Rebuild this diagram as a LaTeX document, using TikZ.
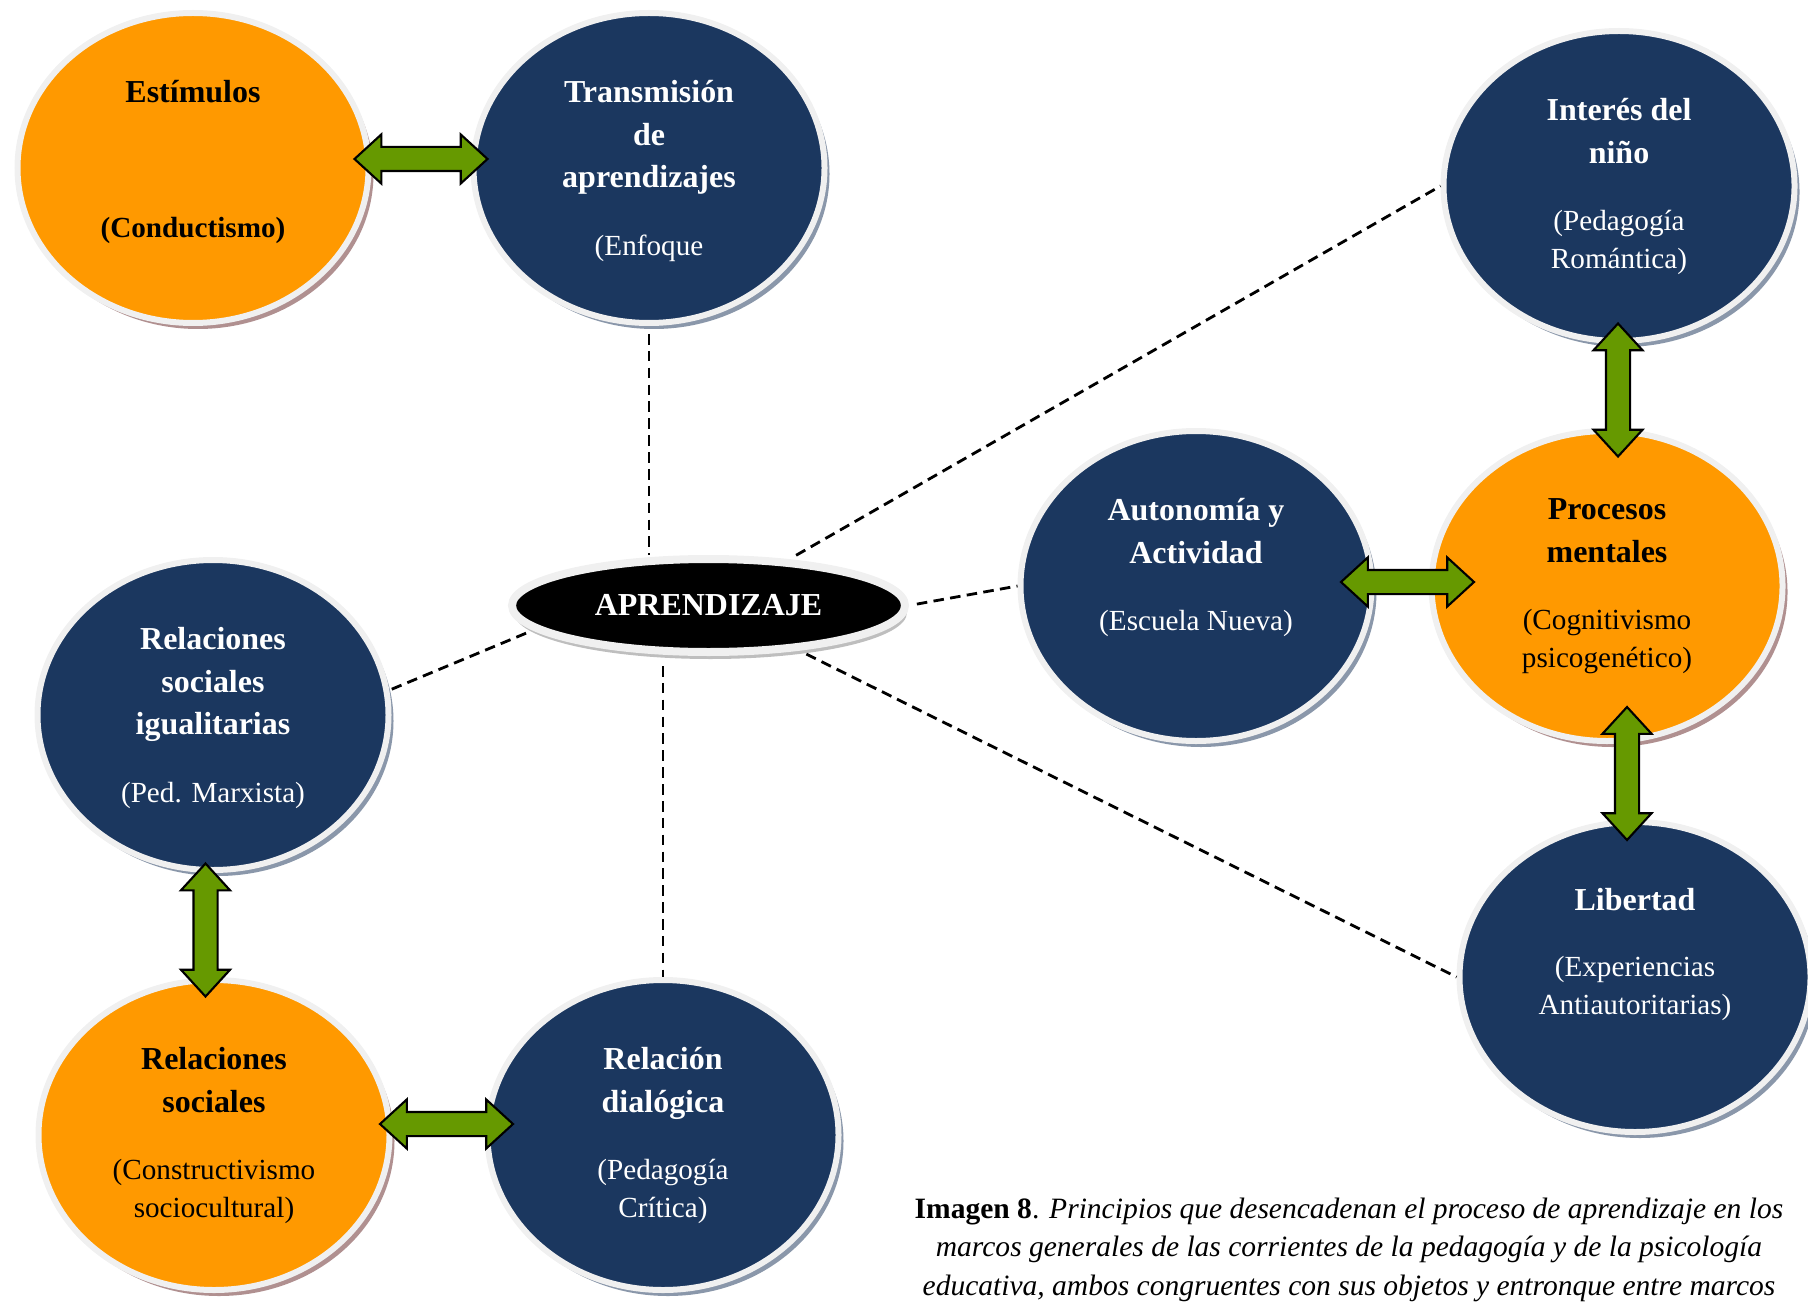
\documentclass[tikz,border=0pt]{standalone}
\usepackage{fontspec}
\setmainfont{Liberation Serif}
\usepackage{tikz}
\usetikzlibrary{positioning,calc,shapes.geometric,shapes.arrows,shadows}
\definecolor{NavyFill}{RGB}{27,55,95}
\definecolor{OrangeFill}{RGB}{255,153,0}
\definecolor{ArrowGreen}{RGB}{102,153,0}
\definecolor{RingGray}{RGB}{240,240,240}
\definecolor{ShadeBlue}{RGB}{138,151,170}
\definecolor{ShadeRose}{RGB}{176,144,144}
\definecolor{ShadeGray}{RGB}{190,190,190}
\newcommand{\pnote}[1]{{\fontsize{8.3}{10}\selectfont #1}}

\begin{document}
\begin{tikzpicture}[
   bubble/.style={ellipse,draw=RingGray,line width=0.06cm,inner sep=0pt,
     minimum width=3.51cm,minimum height=3.10cm},
   bluebub/.style={bubble,fill=NavyFill,
     drop shadow={shadow xshift=0.05cm,shadow yshift=-0.06cm,fill=ShadeBlue,opacity=1}},
   orangebub/.style={bubble,fill=OrangeFill,
     drop shadow={shadow xshift=0.05cm,shadow yshift=-0.06cm,fill=ShadeRose,opacity=1}},
   btext/.style={align=center,inner sep=0pt,anchor=north,font=\fontsize{9.1}{12.1}\selectfont},
   wtext/.style={btext,text=white},
   dashlink/.style={dash pattern=on 3pt off 1.8pt,line width=0.8pt},
   dblarrow/.style={double arrow,draw=black,fill=ArrowGreen,line width=0.6pt,
     minimum height=1.33cm,inner xsep=0pt,inner ysep=0.11cm,
     double arrow head extend=0.125cm,double arrow tip angle=85}]
  \useasboundingbox (0,0) rectangle (18.08,13.01);

  % bubbles
  \node[orangebub] (est)     at (1.93,11.33) {};
  \node[bluebub]   (trans)   at (6.49,11.33) {};
  \node[bluebub]   (interes) at (16.19,11.15) {};
  \node[bluebub]   (auto)    at (11.96,7.15) {};
  \node[orangebub] (proc)    at (16.07,7.15) {};
  \node[bluebub]   (lib)     at (16.35,3.24) {};
  \node[bluebub]   (relig)   at (2.13,5.86) {};
  \node[orangebub] (relsoc)  at (2.14,1.66) {};
  \node[bluebub]   (dial)    at (6.63,1.66) {};

  \node[ellipse,fill=black,draw=RingGray,line width=0.08cm,inner sep=0pt,
        minimum width=3.93cm,minimum height=0.93cm,text=white,
        font=\bfseries\fontsize{9.1}{11}\selectfont,
        drop shadow={shadow xshift=0.02cm,shadow yshift=-0.07cm,fill=ShadeGray,opacity=1}]
        (apr) at (7.085,6.955) {APRENDIZAJE};

  % texts
  \node[btext,below=0.70cm of est.north] (est-t)
     {\textbf{Estímulos}\\[26.2pt]\pnote{\textbf{(Conductismo)}}};
  \node[wtext,below=0.70cm of trans.north] (trans-t)
     {\textbf{Transmisión}\\\textbf{de}\\\textbf{aprendizajes}\\[7pt]\pnote{(Enfoque}};
  \node[wtext,below=0.70cm of interes.north] (interes-t)
     {\textbf{Interés del}\\\textbf{niño}\\[7pt]\pnote{(Pedagogía}\\[-1.4pt]\pnote{Romántica)}};
  \node[wtext,below=0.70cm of auto.north] (auto-t)
     {\textbf{Autonomía y}\\\textbf{Actividad}\\[7pt]\pnote{(Escuela Nueva)}};
  \node[btext,below=0.70cm of proc.north] (proc-t)
     {\textbf{Procesos}\\\textbf{mentales}\\[7pt]\pnote{(Cognitivismo}\\[-1.3pt]\pnote{psicogenético)}};
  \node[wtext,below=0.69cm of lib.north] (lib-t)
     {\textbf{Libertad}\\[6.5pt]\pnote{(Experiencias}\\[-1.1pt]\pnote{Antiautoritarias)}};
  \node[wtext,below=0.70cm of relig.north] (relig-t)
     {\textbf{Relaciones}\\\textbf{sociales}\\\textbf{igualitarias}\\[7pt]\pnote{(Ped. Marxista)}};
  \node[btext,below=0.70cm of relsoc.north] (relsoc-t)
     {\textbf{Relaciones}\\\textbf{sociales}\\[7pt]\pnote{(Constructivismo}\\[-1.3pt]\pnote{sociocultural)}};
  \node[wtext,below=0.70cm of dial.north] (dial-t)
     {\textbf{Relación}\\\textbf{dialógica}\\[7pt]\pnote{(Pedagogía}\\[-1.3pt]\pnote{Crítica)}};

  % dashed links to the centre
  \draw[dashlink,shorten <=0.08cm] (trans.south) -- (trans.south |- apr.north);
  \draw[dashlink,shorten <=0.1cm] (apr.south -| dial.north) -- (dial.north);
  \foreach \a/\b in {apr/interes.west,apr.east/auto.west,apr/lib.west,apr.188/relig.8}{
    \draw[dashlink,shorten <=0.08cm] (\a) -- (\b);
  }

  % green double arrows
  \node[dblarrow] (ar1) at ($(est.east)!.5!(trans.west)+(0,0.09)$) {};
  \node[dblarrow,rotate=90] (ar2) at ($(interes.south)!.5!(proc.north)+(0.05,-0.04)$) {};
  \node[dblarrow] (ar3) at ($(auto.east)!.5!(proc.west)+(0.06,0.04)$) {};
  \node[dblarrow,rotate=90] (ar4) at ($(proc.south)!.5!(lib.north)+(0.06,0.08)$) {};
  \node[dblarrow,rotate=90] (ar5) at ($(relig.south)!.5!(relsoc.north)+(-0.08,-0.05)$) {};
  \node[dblarrow] (ar6) at ($(relsoc.east)!.5!(dial.west)+(0.08,0.11)$) {};

  % caption
  \node[anchor=north,align=center,inner sep=0pt,font=\fontsize{8.4}{11}\selectfont] (cap)
     at (13.49,1.04)
     {\textbf{Imagen 8}. \textit{Principios que desencadenan el proceso de aprendizaje en los}\\
      \textit{marcos generales de las corrientes de la pedagogía y de  la psicología}\\
      \textit{educativa, ambos congruentes con sus objetos y entronque entre marcos}};
\end{tikzpicture}
\end{document}
